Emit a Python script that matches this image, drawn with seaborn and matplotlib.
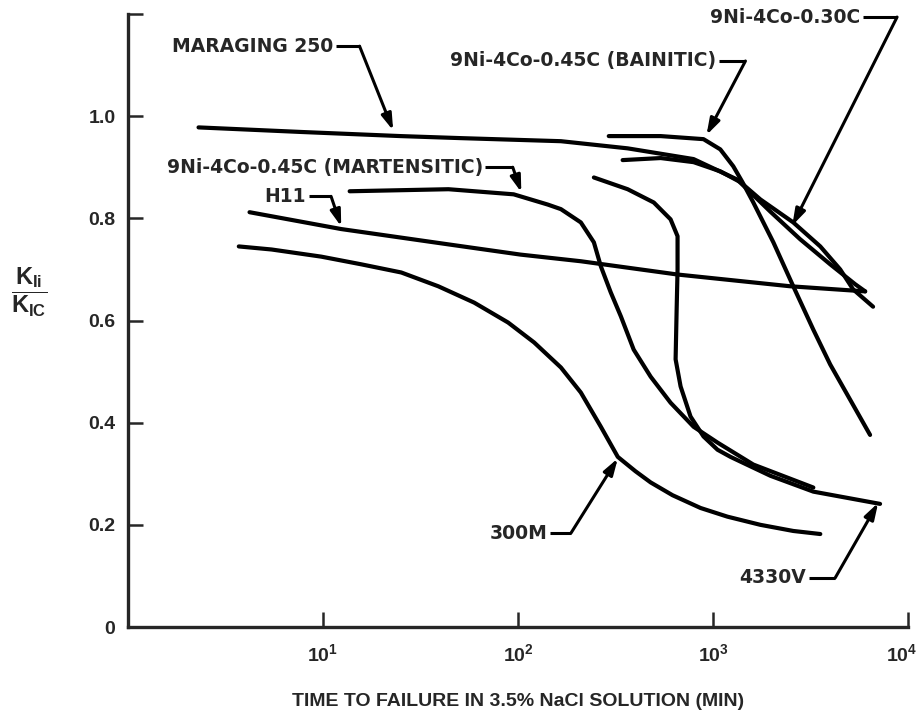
import numpy as np
import pandas as pd
import matplotlib
matplotlib.use("Agg")
import matplotlib.pyplot as plt
import seaborn as sns

# K_Ii / K_IC vs time to failure in 3.5% NaCl
maraging_t = [2.3, 7.8, 25, 51, 166, 365, 795, 1330, 1970, 2800, 3990, 5360, 6030]
maraging_k = [0.978, 0.969, 0.961, 0.957, 0.951, 0.937, 0.916, 0.876, 0.813, 0.759, 0.710, 0.671, 0.657]

bainitic_t = [292, 539, 894, 1090, 1270, 1415, 1610, 2040, 2580, 3270, 3990, 5050, 6390]
bainitic_k = [0.961, 0.961, 0.955, 0.935, 0.902, 0.871, 0.831, 0.753, 0.667, 0.582, 0.514, 0.445, 0.376]

c030_t = [344, 539, 795, 1090, 1380, 1750, 2580, 3550, 4490, 5230, 6620]
c030_k = [0.914, 0.918, 0.910, 0.892, 0.871, 0.837, 0.792, 0.745, 0.700, 0.661, 0.627]

martensitic_t = [13.7, 44, 95, 142, 166, 210, 245, 266, 299, 337, 392, 479, 606, 795, 1055, 1610, 3270]
martensitic_k = [0.853, 0.857, 0.847, 0.827, 0.818, 0.792, 0.753, 0.706, 0.655, 0.608, 0.543,
                 0.490, 0.439, 0.392, 0.361, 0.318, 0.273]

h11_t = [4.2, 12.4, 44, 103, 210, 658, 2490, 6030]
h11_k = [0.812, 0.779, 0.749, 0.729, 0.716, 0.690, 0.667, 0.657]

m300_t = [3.7, 5.45, 9.8, 15.7, 25.2, 39, 59.6, 89, 121, 166, 210, 266, 325, 400, 479, 620,
          863, 1186, 1750, 2580, 3550]
m300_k = [0.745, 0.739, 0.725, 0.710, 0.694, 0.667, 0.635, 0.596, 0.557, 0.508, 0.459, 0.392,
          0.333, 0.305, 0.283, 0.258, 0.233, 0.216, 0.200, 0.188, 0.182]

v4330_t = [245, 365, 497, 606, 658, 658, 651, 643, 682, 767, 894, 1055, 1230, 1970, 3270, 7190]
v4330_k = [0.880, 0.857, 0.831, 0.798, 0.765, 0.700, 0.622, 0.524, 0.471, 0.412, 0.373, 0.347,
           0.333, 0.296, 0.265, 0.241]

names = ["MARAGING 250", "9Ni-4Co-0.45C (BAINITIC)", "9Ni-4Co-0.30C",
         "9Ni-4Co-0.45C (MARTENSITIC)", "H11", "300M", "4330V"]
times = [maraging_t, bainitic_t, c030_t, martensitic_t, h11_t, m300_t, v4330_t]
ratios = [maraging_k, bainitic_k, c030_k, martensitic_k, h11_k, m300_k, v4330_k]

# label callouts: text end, elbow, arrow tip (data coords)
label_pos = [(11.3, 1.137), (1040, 1.108), (5680, 1.194), (66, 0.900), (8.2, 0.843), (141, 0.184), (3010, 0.096)]
elbow_pos = [(15.4, 1.137), (1467, 1.108), (8790, 1.194), (94, 0.900), (11.0, 0.843), (187, 0.184), (4230, 0.096)]
tip_pos = [(22.9, 0.972), (926, 0.963), (2550, 0.786), (104, 0.851), (12.4, 0.784), (325, 0.330), (7030, 0.243)]

df = pd.concat([pd.DataFrame({"alloy": n, "time": t, "ratio": r})
                for n, t, r in zip(names, times, ratios)], ignore_index=True)

sns.set_style("ticks")
plt.rcParams['font.family'] = ['Liberation Sans', 'DejaVu Sans']
plt.rcParams['font.weight'] = 'bold'
plt.rcParams['mathtext.fontset'] = 'custom'
plt.rcParams['mathtext.rm'] = 'Liberation Sans:bold'
plt.rcParams['mathtext.it'] = 'Liberation Sans:bold'
plt.rcParams['mathtext.bf'] = 'Liberation Sans:bold'

fig = plt.figure(figsize=(9.2, 7.15), dpi=100)
ax = fig.add_axes([128 / 920, 1 - 627 / 715, 780 / 920, 613 / 715])

sns.lineplot(data=df, x="time", y="ratio", units="alloy", estimator=None,
             sort=False, color="black", linewidth=3, ax=ax)

ax.set_xscale("log")
ax.set_xlim(1, 1e4)
ax.set_ylim(0, 1.2)
ax.xaxis.set_minor_locator(matplotlib.ticker.NullLocator())
ax.set_xticks([10, 100, 1000, 10000])
ax.set_xticklabels([r"$10^{1}$", r"$10^{2}$", r"$10^{3}$", r"$10^{4}$"])
ax.set_yticks([0, 0.2, 0.4, 0.6, 0.8, 1.0, 1.2])
ax.set_yticklabels(["0", "0.2", "0.4", "0.6", "0.8", "1.0", ""])
ax.tick_params(direction="in", length=11, width=1.8, labelsize=14, pad=9)
ax.tick_params(axis="x", pad=12)
last = ax.get_xticklabels()[-1]
last.set_transform(last.get_transform() + matplotlib.transforms.ScaledTranslation(-6 / 100, 0, fig.dpi_scale_trans))
for s in ["top", "right"]:
    ax.spines[s].set_visible(False)
for s in ["left", "bottom"]:
    ax.spines[s].set_linewidth(2.4)

ax.set_xlabel("TIME TO FAILURE IN 3.5% NaCl SOLUTION (MIN)", fontsize=14,
              fontweight="bold", labelpad=20)
ax.set_ylabel("")
fig.text(29 / 920, 1 - 292 / 715, r"$\dfrac{K_{Ii}}{K_{IC}}$", ha="center",
         va="center", fontsize=17)

for n, lp, ep, tp in zip(names, label_pos, elbow_pos, tip_pos):
    ax.text(lp[0], lp[1], n, ha="right", va="center", fontsize=13.5,
            fontweight="bold", family="DejaVu Sans")
    ax.plot([lp[0] * 1.03, ep[0]], [lp[1], ep[1]], color="black", lw=2.2,
            solid_capstyle="butt", clip_on=False)
    ax.annotate("", xy=tp, xytext=ep,
                arrowprops=dict(arrowstyle="-|>,head_length=0.7,head_width=0.22",
                                color="black", lw=2.2, mutation_scale=14,
                                shrinkA=0, shrinkB=0),
                annotation_clip=False)

fig.savefig("out.png", dpi=100)
